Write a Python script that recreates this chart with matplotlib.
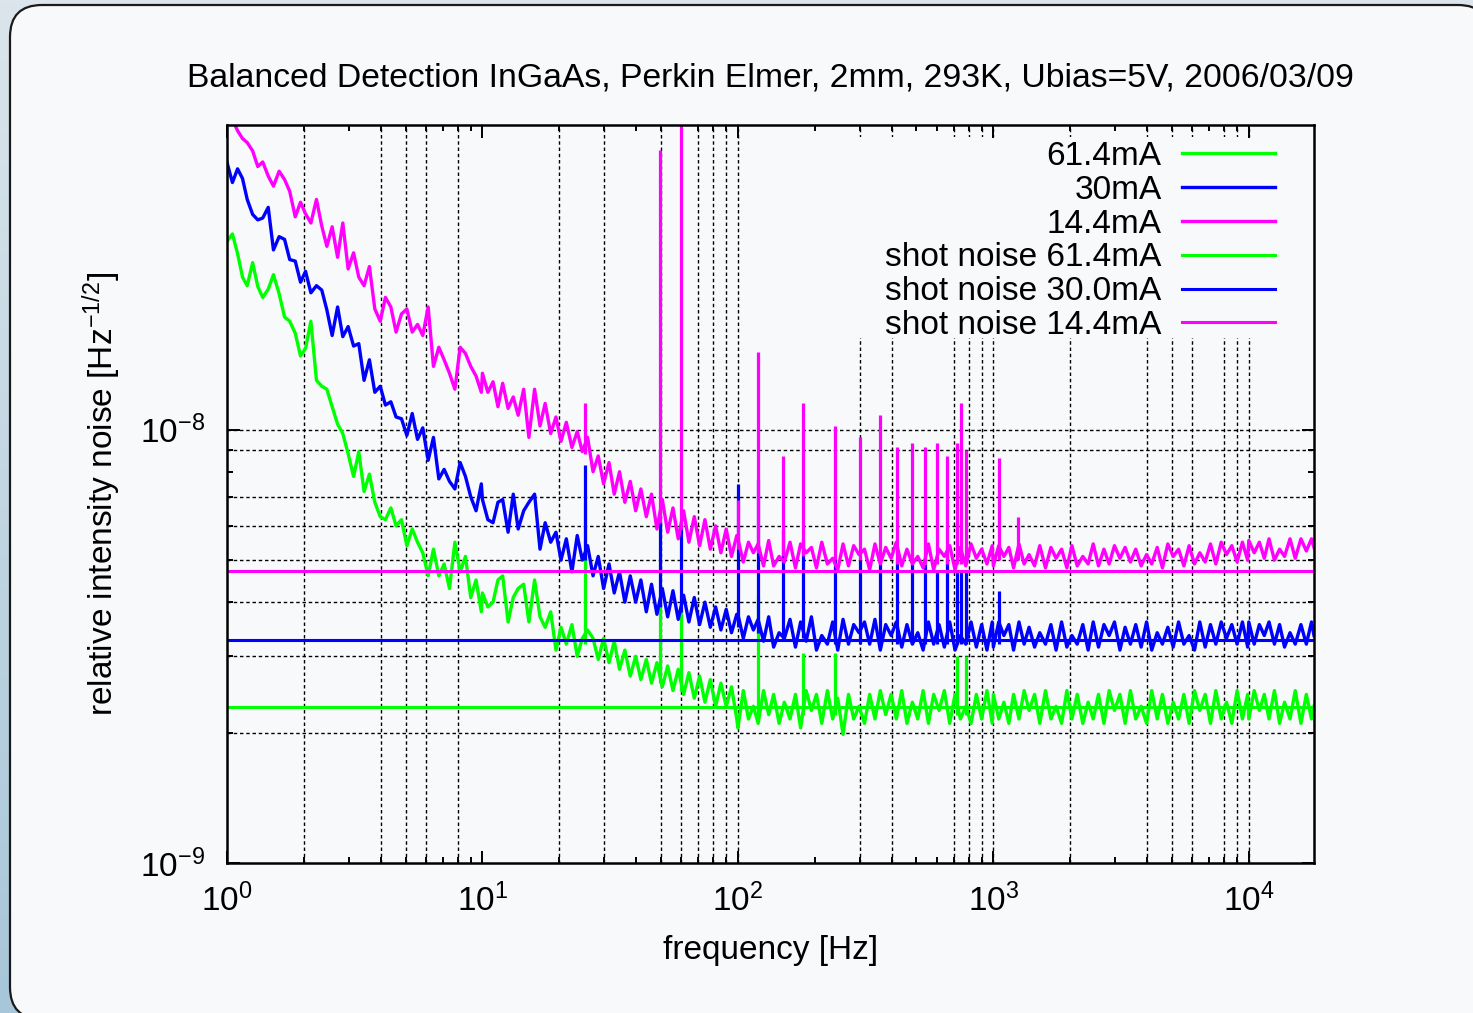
import numpy as np
import matplotlib
matplotlib.use('Agg')
import matplotlib.pyplot as plt
from matplotlib.patches import FancyBboxPatch, Rectangle
from matplotlib.colors import LinearSegmentedColormap
from matplotlib.ticker import FixedLocator, NullFormatter, LogFormatterSciNotation

plt.rcParams['font.family'] = ['Liberation Sans', 'DejaVu Sans']
plt.rcParams['mathtext.fontset'] = 'custom'
plt.rcParams['mathtext.rm'] = 'Liberation Sans'
plt.rcParams['mathtext.it'] = 'Liberation Sans:italic'
plt.rcParams['mathtext.bf'] = 'Liberation Sans:bold'

# frequency grid: same mantissas in every decade, last decade stops at 18 kHz
mant = [1.00, 1.05, 1.10, 1.15, 1.20, 1.26, 1.32, 1.38, 1.45, 1.52,
        1.60, 1.68, 1.76, 1.85, 1.94, 2.03, 2.13, 2.24, 2.35, 2.46,
        2.58, 2.71, 2.84, 2.98, 3.13, 3.28, 3.44, 3.61, 3.79, 3.98,
        4.17, 4.38, 4.59, 4.82, 5.06, 5.31, 5.57, 5.84, 6.13, 6.43,
        6.75, 7.08, 7.43, 7.80, 8.18, 8.58, 9.00, 9.44, 9.90]
freq = [m * 10 ** d for d in range(5) for m in mant if m * 10 ** d < 18000] + [18000]

# relative intensity noise, units of 1e-9 / sqrt(Hz)
rin_14 = [
    56, 52, 49, 47, 46, 44, 40.5, 41.5, 38.5, 36.5,
    39.5, 37.8, 35.5, 31, 33.5, 31.5, 30, 34, 29.5, 26.5,
    29.4, 25, 30, 23.5, 25.6, 22.5, 21.5, 23.8, 19, 17.8,
    20.2, 19.2, 16.8, 18.5, 19, 16.8, 17.5, 16.5, 19.2, 14,
    15.5, 14.5, 13.5, 12.4, 15.5, 15, 14, 13.3, 12.2,
    13.5, 12.2, 12.9, 11.3, 12.8, 11.2, 11.9, 10.8, 12.4, 9.6,
    12.4, 10.2, 11.5, 9.8, 10.7, 9.4, 10.4, 9.1, 9.9, 8.9,
    9.6, 8.0, 8.7, 7.5, 8.4, 7.1, 8.0, 6.8, 7.6, 6.5,
    7.3, 6.3, 7.1, 5.9, 6.9, 5.8, 6.6, 5.6, 6.5, 5.5,
    6.3, 5.4, 6.2, 5.3, 6.0, 5.2, 5.9, 5.1, 5.7,
    5.6, 4.95, 5.5, 5.2, 5.45, 4.85, 5.55, 4.85, 5.1, 4.95,
    5.5, 4.8, 5.45, 5.2, 5.35, 4.8, 5.5, 4.9, 5.05, 4.75,
    5.45, 4.85, 5.4, 5.15, 5.3, 4.75, 5.45, 4.9, 5.35, 5.05,
    5.5, 4.85, 5.3, 4.9, 5.1, 4.8, 5.45, 4.75, 5.3, 5.1,
    5.4, 4.75, 5.35, 4.85, 5.45, 5.05, 5.3, 4.9, 5.4,
    4.85, 5.4, 5.1, 5.35, 4.8, 5.45, 4.9, 5.15, 4.85, 5.4,
    4.8, 5.35, 5.05, 5.3, 4.8, 5.4, 4.85, 5.1, 4.9, 5.45,
    4.85, 5.3, 4.9, 5.4, 5.05, 5.35, 4.95, 5.3, 4.85, 5.15,
    4.9, 5.35, 4.8, 5.45, 5.1, 5.3, 4.85, 5.4, 4.9, 5.2,
    4.95, 5.45, 4.9, 5.5, 5.15, 5.4, 4.95, 5.5, 5.0,
    5.55, 5.2, 5.5, 5.05, 5.6, 5.0, 5.3, 5.1, 5.6, 5.05, 5.6, 5.25, 5.6, 5.35]

rin_30 = [
    41.4, 37.2, 40.0, 38.0, 34.0, 31.4, 30.5, 30.8, 32.6, 26.0,
    27.9, 27.5, 24.7, 24.5, 21.9, 23.2, 20.7, 21.5, 21.0, 18.9,
    16.5, 19.2, 16.4, 17.3, 15.6, 15.8, 13.0, 14.5, 12.2, 12.6,
    11.4, 11.6, 10.7, 10.6, 9.7, 10.9, 9.5, 10.1, 8.5, 9.6,
    7.7, 8.1, 7.6, 7.3, 8.4, 7.8, 7.0, 6.5, 7.5,
    6.9, 6.2, 6.1, 6.8, 6.9, 5.8, 7.1, 5.9, 6.5, 6.8,
    7.1, 5.3, 6.1, 5.5, 5.8, 5.0, 5.6, 4.7, 5.7, 5.0,
    5.4, 4.6, 5.1, 4.3, 4.9, 4.2, 4.7, 4.0, 4.6, 4.0,
    4.5, 3.8, 4.4, 3.75, 4.3, 3.7, 4.25, 3.65, 4.15, 3.6,
    4.1, 3.55, 4.0, 3.5, 3.9, 3.45, 3.85, 3.4, 3.75,
    3.75, 3.3, 3.7, 3.45, 3.65, 3.25, 3.7, 3.15, 3.4, 3.3,
    3.65, 3.15, 3.6, 3.25, 3.7, 3.1, 3.35, 3.2, 3.6, 3.1,
    3.65, 3.2, 3.55, 3.4, 3.6, 3.2, 3.65, 3.1, 3.55, 3.35,
    3.6, 3.15, 3.55, 3.2, 3.4, 3.1, 3.6, 3.2, 3.55, 3.15,
    3.6, 3.1, 3.35, 3.2, 3.6, 3.15, 3.55, 3.1, 3.6,
    3.15, 3.6, 3.35, 3.55, 3.1, 3.6, 3.2, 3.5, 3.15, 3.4,
    3.2, 3.55, 3.1, 3.6, 3.15, 3.35, 3.2, 3.55, 3.1, 3.6,
    3.15, 3.55, 3.35, 3.6, 3.1, 3.5, 3.2, 3.55, 3.15, 3.6,
    3.1, 3.4, 3.2, 3.5, 3.15, 3.6, 3.2, 3.35, 3.1, 3.6,
    3.15, 3.55, 3.2, 3.6, 3.3, 3.55, 3.2, 3.6, 3.15,
    3.6, 3.2, 3.55, 3.35, 3.6, 3.2, 3.55, 3.15, 3.4, 3.2, 3.55, 3.2, 3.6, 3.35]

rin_61 = [
    27.2, 28.3, 25.5, 22.5, 21.5, 24.3, 21.4, 20.2, 21.1, 22.8,
    20.6, 18.2, 17.8, 16.7, 14.8, 15.4, 17.8, 13.0, 12.6, 12.4,
    11.3, 10.3, 9.8, 8.8, 7.8, 8.9, 7.2, 7.9, 6.8, 6.3,
    6.2, 6.6, 6.0, 6.2, 5.4, 5.9, 5.5, 5.2, 4.6, 5.3,
    4.6, 4.9, 4.3, 5.5, 4.7, 5.1, 4.1, 4.5, 3.8,
    4.2, 3.9, 4.0, 4.5, 4.6, 3.6, 4.1, 4.3, 4.4, 3.6,
    4.5, 3.7, 3.5, 3.8, 3.1, 3.5, 3.2, 3.55, 3.0, 3.3,
    3.45, 3.3, 2.95, 3.3, 2.9, 3.25, 2.8, 3.1, 2.7, 3.0,
    2.65, 2.95, 2.6, 2.9, 2.55, 2.85, 2.5, 2.8, 2.45, 2.75,
    2.4, 2.7, 2.35, 2.65, 2.3, 2.6, 2.3, 2.55, 2.15,
    2.05, 2.5, 2.15, 2.3, 2.1, 2.5, 2.2, 2.45, 2.1, 2.35,
    2.15, 2.45, 2.05, 2.5, 2.25, 2.45, 2.1, 2.5, 2.15, 2.4,
    1.98, 2.45, 2.15, 2.3, 2.1, 2.45, 2.15, 2.5, 2.2, 2.45,
    2.15, 2.5, 2.1, 2.35, 2.15, 2.5, 2.1, 2.45, 2.25, 2.5,
    2.1, 2.45, 2.15, 2.3, 2.1, 2.45, 2.15, 2.5, 2.1,
    2.45, 2.15, 2.35, 2.1, 2.45, 2.15, 2.5, 2.25, 2.45, 2.1,
    2.5, 2.15, 2.3, 2.1, 2.5, 2.15, 2.45, 2.1, 2.35, 2.15,
    2.45, 2.1, 2.5, 2.25, 2.45, 2.1, 2.5, 2.15, 2.3, 2.1,
    2.5, 2.15, 2.45, 2.1, 2.35, 2.15, 2.45, 2.1, 2.5, 2.25,
    2.45, 2.1, 2.5, 2.15, 2.35, 2.1, 2.5, 2.15, 2.45,
    2.15, 2.5, 2.25, 2.45, 2.15, 2.5, 2.1, 2.35, 2.15, 2.5, 2.1, 2.45, 2.15, 2.3]

# mains pickup lines: frequency, foot and tip of each spike (1e-9)
spike_f_14 = [25.2, 49.5, 59.8, 100, 120, 150, 180, 240, 300, 360, 420, 480, 540, 600, 660, 720, 750, 780, 1050, 1250]
spike_lo_14 = [8.8, 6.1, 5.9, 5.3, 5.2, 5.1, 5.1, 5.0, 5.0, 4.9, 4.9, 4.9, 4.9, 4.9, 4.9, 4.9, 4.9, 4.9, 5.0, 5.0]
spike_hi_14 = [11.5, 44.3, 60, 6.9, 15.1, 8.7, 11.5, 10.2, 9.6, 10.8, 9.1, 9.3, 9.1, 9.3, 8.7, 9.3, 11.5, 9.0, 8.6, 6.3]

spike_f_30 = [25.2, 49.5, 59.8, 100, 120, 150, 180, 240, 300, 360, 420, 480, 540, 600, 660, 720, 750, 780, 1050]
spike_lo_30 = [5.0, 3.9, 3.8, 3.5, 3.4, 3.3, 3.3, 3.2, 3.2, 3.2, 3.2, 3.2, 3.2, 3.2, 3.2, 3.2, 3.2, 3.2, 3.2]
spike_hi_30 = [8.3, 6.2, 6.1, 7.5, 7.7, 5.9, 5.6, 5.0, 5.0, 4.9, 5.0, 4.9, 4.9, 4.75, 5.1, 4.75, 4.75, 4.75, 4.25]

spike_f_61 = [25.2, 49.5, 59.8, 120, 180, 240, 720, 780]
spike_lo_61 = [3.2, 2.6, 2.5, 2.2, 2.2, 2.2, 2.2, 2.2]
spike_hi_61 = [6.8, 3.9, 3.8, 4.1, 3.05, 3.05, 3.0, 3.0]

# shot noise levels sqrt(2e/I) for 61.4, 30.0, 14.4 mA (1e-9)
shot_levels = [2.29, 3.27, 4.72]

labels = ['61.4mA', '30mA', '14.4mA']
shot_labels = ['shot noise 61.4mA', 'shot noise 30.0mA', 'shot noise 14.4mA']
colors = ['#00ff00', '#0000ff', '#ff00ff']

grid_x = [2, 4, 5, 6, 8, 20, 30, 50, 60, 70, 80, 90, 100, 300, 400, 700, 800, 900, 1000,
          2000, 4000, 5000, 6000, 8000, 9000, 10000]
grid_y = [2, 3, 4, 5, 6, 7, 9, 10]

W, H = 1473, 1013
PANEL = '#f7f9fb'

fig = plt.figure(figsize=(W / 100, H / 100), dpi=100)

# window-like backdrop with rounded panel
bg = fig.add_axes([0, 0, 1, 1], zorder=-10)
bg.set_xlim(0, W)
bg.set_ylim(H, 0)
bg.axis('off')
grad = np.linspace(0, 1, 256).reshape(-1, 1)
cmap = LinearSegmentedColormap.from_list('bg', ['#dbe5eb', '#a7c6d9'])
bg.imshow(grad, extent=[0, W, H, 0], cmap=cmap, aspect='auto')
bg.add_patch(FancyBboxPatch((10, 5), 1480, 1014, boxstyle='round,pad=0,rounding_size=32',
                            fc=PANEL, ec='#1a1a1a', lw=1.6))

ax = fig.add_axes([227 / W, 1 - 863 / H, (1314 - 227) / W, (863 - 125) / H])
ax.set_facecolor(PANEL)
ax.set_xscale('log')
ax.set_yscale('log')
ax.set_xlim(1, 1.8e4)
ax.set_ylim(1e-9, 5.05e-8)

for gx in grid_x:
    ax.axvline(gx, color='black', lw=1.0, ls=(0, (2.5, 2.0)), zorder=1)
for gy in grid_y:
    ax.axhline(gy * 1e-9, color='black', lw=1.0, ls=(0, (2.5, 2.0)), zorder=1)

# blank area behind the key
ax.add_patch(Rectangle((0.578, 0.711), 0.409, 0.273, transform=ax.transAxes,
                       fc=PANEL, ec='none', zorder=1.5))

f = np.array(freq)
series = [rin_61, rin_30, rin_14]
spikes = [(spike_f_61, spike_lo_61, spike_hi_61),
          (spike_f_30, spike_lo_30, spike_hi_30),
          (spike_f_14, spike_lo_14, spike_hi_14)]
handles = []
for i, (vals, (sf, slo, shi)) in enumerate(zip(series, spikes)):
    h, = ax.plot(f, np.array(vals) * 1e-9, color=colors[i], lw=2.4, zorder=2 + i,
                 label=labels[i])
    ax.vlines(sf, np.array(slo) * 1e-9, np.array(shi) * 1e-9, color=colors[i],
              lw=2.3, zorder=2 + i)
    handles.append(h)

for i, lvl in enumerate(shot_levels):
    h = ax.axhline(lvl * 1e-9, color=colors[i], lw=2.2, zorder=6, label=shot_labels[i])
    handles.append(h)

ax.xaxis.set_major_locator(FixedLocator([1, 10, 100, 1000, 10000]))
ax.yaxis.set_major_locator(FixedLocator([1e-9, 1e-8]))
ax.xaxis.set_minor_locator(FixedLocator([m * 10 ** d for d in range(4) for m in range(2, 10)]))
ax.yaxis.set_minor_locator(FixedLocator([m * 1e-9 for m in range(2, 10)]))
ax.xaxis.set_major_formatter(LogFormatterSciNotation())
ax.yaxis.set_major_formatter(LogFormatterSciNotation())
ax.xaxis.set_minor_formatter(NullFormatter())
ax.yaxis.set_minor_formatter(NullFormatter())
ax.tick_params(which='both', direction='in', top=True, right=True, width=1.4,
               labelsize=24, colors='black')
ax.tick_params(which='major', length=9)
ax.tick_params(which='minor', length=4.5)
ax.tick_params(axis='x', which='major', pad=15)
ax.tick_params(axis='y', which='major', pad=16)
for sp in ax.spines.values():
    sp.set_linewidth(1.8)
    sp.set_zorder(8)

ax.set_title('Balanced Detection InGaAs, Perkin Elmer, 2mm, 293K, Ubias=5V, 2006/03/09',
             fontsize=24.3, pad=28)
ax.set_xlabel('frequency [Hz]', fontsize=24)
ax.set_ylabel('relative intensity noise [Hz$^{-1/2}$]', fontsize=24)
ax.xaxis.set_label_coords(0.5, -0.098)
ax.yaxis.set_label_coords(-0.096, 0.5)

ax.legend(handles=handles, loc='upper right', bbox_to_anchor=(0.9641, 0.9783),
          frameon=False, fontsize=24, markerfirst=False, borderpad=0,
          borderaxespad=0, labelspacing=0.084, handlelength=2.8, handletextpad=0.6)

fig.savefig('out.png', dpi=100)
